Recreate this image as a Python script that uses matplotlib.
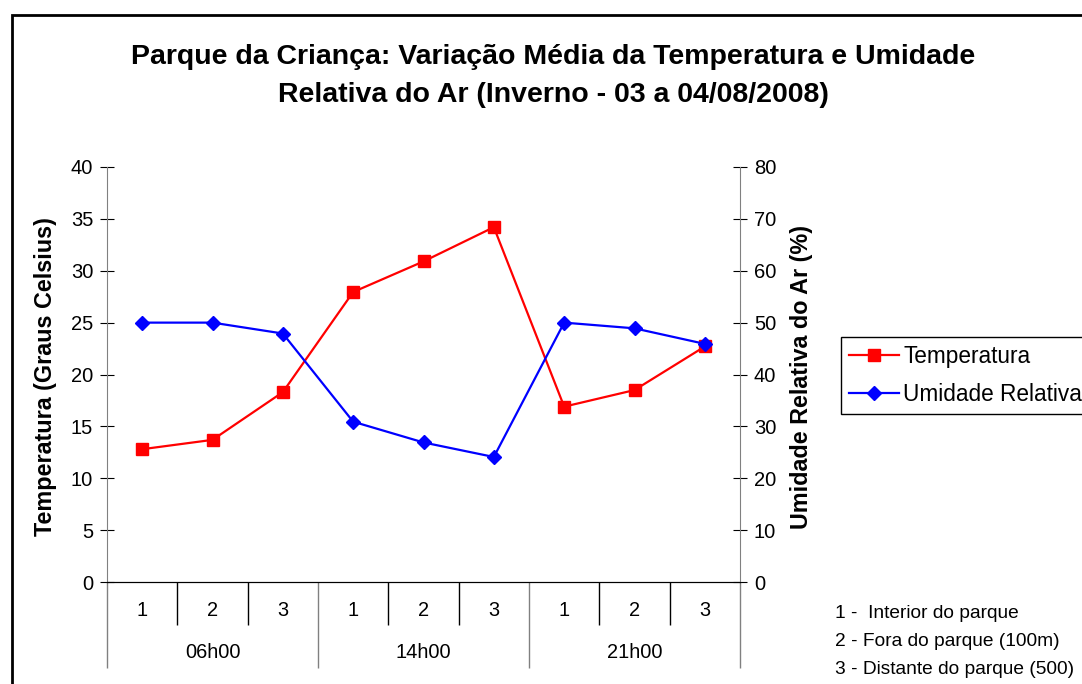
import numpy as np
import matplotlib
matplotlib.use('Agg')
import matplotlib.pyplot as plt
from matplotlib.patches import Rectangle

plt.rcParams['font.family'] = ['Liberation Sans', 'DejaVu Sans']

# dados
pontos = ['1', '2', '3', '1', '2', '3', '1', '2', '3']
horarios = ['06h00', '14h00', '21h00']
temperatura = [12.8, 13.7, 18.3, 27.95, 30.9, 34.2, 16.9, 18.5, 22.7]
umidade = [50.0, 50.0, 47.9, 30.9, 26.9, 24.1, 50.0, 48.9, 45.9]
notas = ['1 -  Interior do parque', '2 - Fora do parque (100m)', '3 - Distante do parque (500)']

fig = plt.figure(figsize=(10.82, 6.84), dpi=100)
ax = fig.add_axes([107/1082, 1-582/684, 633/1082, 415/684])
ax2 = ax.twinx()

x = np.arange(len(pontos))
l1, = ax.plot(x, temperatura, c='red', lw=1.6, marker='s', ms=8, label='Temperatura')
l2, = ax2.plot(x, umidade, c='blue', lw=1.6, marker='D', ms=7.5, label='Umidade Relativa')

ax.set_xlim(-0.5, len(pontos)-0.5)
ax.set_ylim(0, 40)
ax2.set_ylim(0, 80)
ax.set_yticks(np.arange(0, 41, 5))
ax2.set_yticks(np.arange(0, 81, 10))

for a in (ax, ax2):
    a.spines['top'].set_visible(False)
    a.spines['left'].set_color('#808080')
    a.spines['right'].set_color('#808080')
    a.spines['bottom'].set_color('black')
    a.tick_params(axis='y', direction='inout', length=10, labelsize=14.5, pad=5)
ax2.spines['left'].set_visible(False)
ax.spines['right'].set_visible(False)

# eixo de categorias em dois niveis
sep = [i + 0.5 for i in range(len(pontos)-1) if (i + 1) % 3 != 0]
grp = [-0.5, 2.5, 5.5, 8.5]
ax.set_xticks(sep)
ax.set_xticklabels([])
ax.tick_params(axis='x', which='major', direction='out', length=31, width=1, color='black')
ax.set_xticks(grp, minor=True)
ax.tick_params(axis='x', which='minor', direction='out', length=62, width=1, color='#808080')

tr = ax.get_xaxis_transform()
for i, p in enumerate(pontos):
    ax.text(i, -28/415, p, transform=tr, ha='center', va='center', fontsize=14.4)
for j, h in enumerate(horarios):
    ax.text(3*j + 1, -71/415, h, transform=tr, ha='center', va='center', fontsize=14.4)

ax.set_ylabel('Temperatura (Graus Celsius)', fontsize=16.8, fontweight='bold')
ax.yaxis.set_label_coords(-0.079, 0.495)
ax2.set_ylabel('Umidade Relativa do Ar (%)', fontsize=16.8, fontweight='bold')
ax2.yaxis.set_label_coords(1.079, 0.495)

fig.text(553/1082, 1-76/684,
         'Parque da Criança: Variação Média da Temperatura e Umidade\nRelativa do Ar (Inverno - 03 a 04/08/2008)',
         ha='center', va='center', fontsize=20.5, fontweight='bold', linespacing=1.55)

fig.legend([l1, l2], ['Temperatura', 'Umidade Relativa'], loc='upper left',
           bbox_to_anchor=(841/1082, 1-337/684), fontsize=16.3, frameon=True,
           fancybox=False, edgecolor='black', framealpha=1, handlelength=2.2,
           borderpad=0.35, labelspacing=0.65, handletextpad=0.2, borderaxespad=0)

for k, n in enumerate(notas):
    fig.text(835/1082, 1-(613 + 28*k)/684, n, ha='left', va='center', fontsize=13.8)

fig.patches.append(Rectangle((12/1082, -0.2), 1.2, 1.2 - 15/684, transform=fig.transFigure,
                             fill=False, lw=2, edgecolor='black'))

fig.savefig('out.png', dpi=100)
